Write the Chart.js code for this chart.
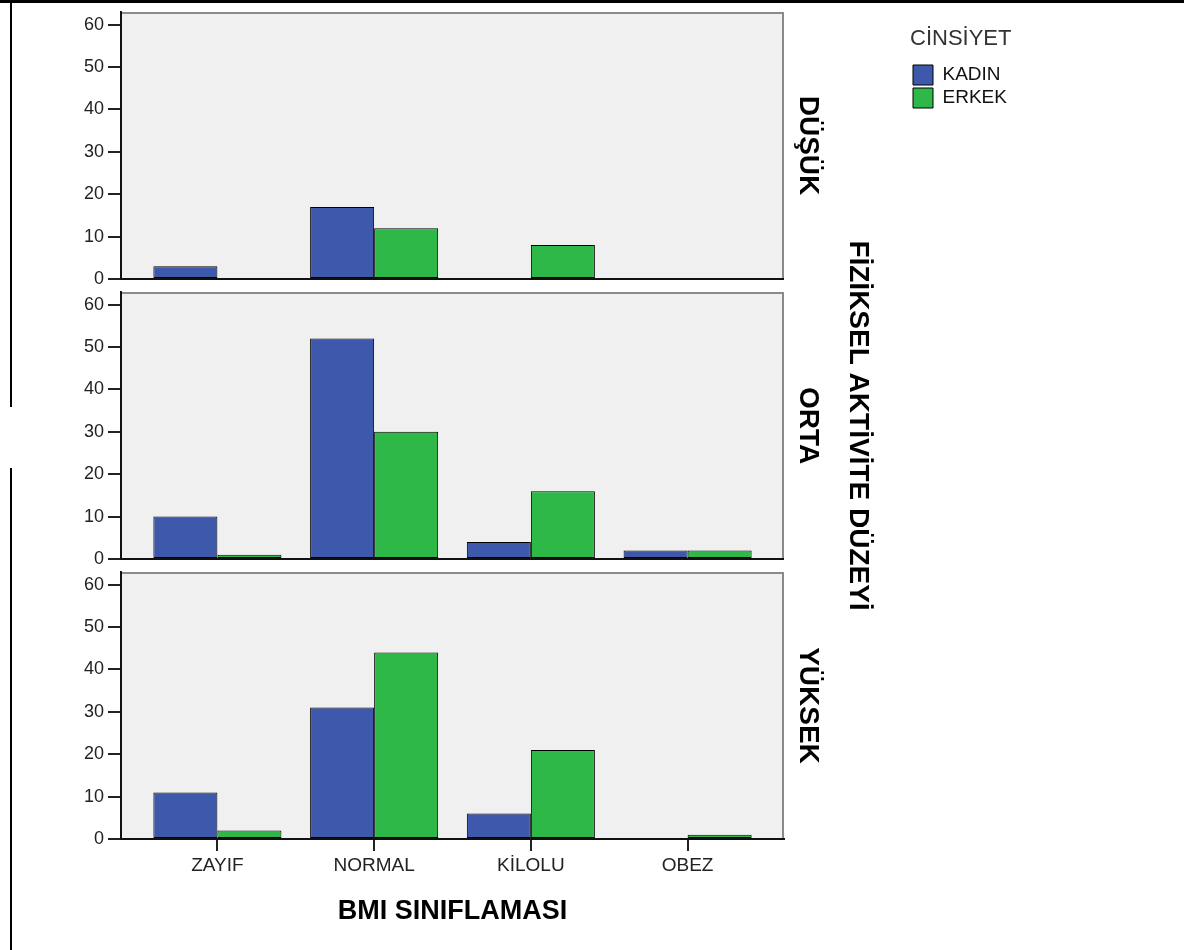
<!DOCTYPE html>
<html>
<head>
<meta charset="utf-8">
<script src="https://cdn.jsdelivr.net/npm/chart.js@4/dist/chart.umd.min.js"></script>
<style>
  html, body { margin: 0; padding: 0; background: #fff; }
  #wrap { position: relative; width: 1184px; height: 950px; overflow: hidden; }
  #c { position: absolute; left: 0; top: 0; }
  .ln { position: absolute; background: #000; }
</style>
</head>
<body>
<div id="wrap">
  <canvas id="c" width="1184" height="950"></canvas>
  <div class="ln" style="left:0;top:0;width:1184px;height:3px;"></div>
  <div class="ln" style="left:10px;top:0;width:2px;height:407px;"></div>
  <div class="ln" style="left:10px;top:468px;width:2px;height:482px;"></div>
</div>
<script>
// ---- data ----
const categories = ['ZAYIF', 'NORMAL', 'KİLOLU', 'OBEZ'];
const panels = ['DÜŞÜK', 'ORTA', 'YÜKSEK'];
const seriesNames = ['KADIN', 'ERKEK'];
const kadinDusuk = [3, 17, 0, 0];
const erkekDusuk = [0, 12, 8, 0];
const kadinOrta = [10, 52, 4, 2];
const erkekOrta = [1, 30, 16, 2];
const kadinYuksek = [11, 31, 6, 0];
const erkekYuksek = [2, 44, 21, 1];
const yTicks = [0, 10, 20, 30, 40, 50, 60];
const legendTitle = 'CİNSİYET';
const xTitle = 'BMI SINIFLAMASI';
const rowTitle = 'FİZİKSEL AKTİVİTE DÜZEYİ';

// ---- styling ----
const FONT = "'Liberation Sans', Arial, sans-serif";
const COLORS = ['#3E58AC', '#2EB848'];
const panelIds = ['yD', 'yO', 'yY'];
const panelValues = [[kadinDusuk, erkekDusuk], [kadinOrta, erkekOrta], [kadinYuksek, erkekYuksek]];

const datasets = [];
panelValues.forEach((pair, p) => {
  pair.forEach((vals, s) => {
    datasets.push({
      label: seriesNames[s],
      data: categories.map((c, i) => ({ x: i, y: vals[i] })),
      yAxisID: panelIds[p],
      xAxisID: 'x',
      stack: 'S' + s,
      backgroundColor: COLORS[s],
      borderColor: '#000',
      borderWidth: 1,
      borderSkipped: false,
      categoryPercentage: 0.817,
      barPercentage: 1.0
    });
  });
});

const setYTicks = s => { s.ticks = yTicks.map(v => ({ value: v })); };
const setXTicks = s => { s.ticks = categories.map((c, i) => ({ value: i })); };
const LEFT_W = 110, RSTACK_W = 44, RT_W = 82;
const PANEL_W = 267, GAP_W = 13;

function leftAxis(weight) {
  return {
    type: 'linear', position: 'left', stack: 'L', stackWeight: PANEL_W, weight,
    min: 0, max: 63, stacked: false,
    afterBuildTicks: setYTicks,
    afterFit: s => { s.width = LEFT_W; s.paddingTop = 0; s.paddingBottom = 0; },
    ticks: { font: { family: FONT, size: 18, lineHeight: 1.2 }, color: '#222', padding: 4 },
    grid: { display: true, drawOnChartArea: false, drawTicks: true, tickLength: 13, color: '#222', lineWidth: 2 },
    border: { display: true, color: '#111', width: 2, z: 1 }
  };
}
function leftGap(weight) {
  return { type: 'linear', position: 'left', stack: 'L', stackWeight: GAP_W, weight, display: false,
           afterFit: s => { s.width = LEFT_W; } };
}
function rightAxis(weight, text) {
  return {
    type: 'linear', position: 'right', stack: 'R', stackWeight: PANEL_W, weight,
    ticks: { display: false }, grid: { display: false, drawTicks: false }, border: { display: false },
    title: { display: true, text, color: '#000', font: { family: FONT, size: 28, weight: 'bold', lineHeight: 1 },
             padding: { top: 6, bottom: 0 } },
    afterFit: s => { s.width = RSTACK_W; }
  };
}
function rightGap(weight) {
  return { type: 'linear', position: 'right', stack: 'R', stackWeight: GAP_W, weight, display: false,
           afterFit: s => { s.width = RSTACK_W; } };
}

const panelPlugin = {
  id: 'panels',
  beforeDraw(chart) {
    const { ctx, chartArea: { left, right } } = chart;
    ctx.save();
    ctx.fillStyle = '#ffffff';
    ctx.fillRect(0, 0, chart.width, chart.height);
    panelIds.forEach(id => {
      const s = chart.scales[id];
      ctx.fillStyle = '#f0f0f0';
      ctx.fillRect(left, s.top, right - left, s.bottom - s.top);
      ctx.strokeStyle = '#8a8a8a';
      ctx.lineWidth = 2;
      ctx.beginPath();
      ctx.moveTo(left, s.top + 1);
      ctx.lineTo(right - 1, s.top + 1);
      ctx.lineTo(right - 1, s.bottom);
      ctx.stroke();
    });
    ctx.restore();
  },
  afterDatasetsDraw(chart) {
    const { ctx, chartArea: { left, right } } = chart;
    ctx.save();
    ctx.strokeStyle = '#111';
    ctx.lineWidth = 2;
    panelIds.forEach(id => {
      const s = chart.scales[id];
      ctx.beginPath();
      ctx.moveTo(left, s.bottom);
      ctx.lineTo(right, s.bottom);
      ctx.stroke();
    });
    ctx.restore();
  }
};

new Chart(document.getElementById('c'), {
  type: 'bar',
  data: { datasets },
  options: {
    responsive: false,
    animation: false,
    devicePixelRatio: 1,
    layout: { padding: { left: 11, top: 12, right: 170, bottom: 10 } },
    plugins: {
      tooltip: { enabled: false },
      legend: {
        display: true, position: 'right', align: 'start', maxWidth: 104,
        title: { display: true, text: legendTitle, color: '#333', position: 'start',
                 font: { family: FONT, size: 22, lineHeight: 1 }, padding: { top: 16, bottom: 12 } },
        labels: {
          boxWidth: 20, boxHeight: 20, padding: 3, color: '#111',
          font: { family: FONT, size: 19, lineHeight: 1 },
          filter: item => item.datasetIndex < 2
        }
      }
    },
    scales: {
      x: {
        type: 'linear', position: 'bottom', min: -0.615, max: 3.615, offset: false,
        afterBuildTicks: setXTicks,
        ticks: { callback: v => categories[v], font: { family: FONT, size: 19, lineHeight: 1.2 },
                 color: '#222', padding: 3, maxRotation: 0, autoSkip: false },
        grid: { display: true, offset: false, drawOnChartArea: false, drawTicks: true, tickLength: 12, color: '#222', lineWidth: 2 },
        border: { display: true, color: '#111', width: 2, z: 1 },
        title: { display: true, text: xTitle, color: '#000',
                 font: { family: FONT, size: 27, weight: 'bold', lineHeight: 1.2 }, padding: { top: 16, bottom: 11.8 } }
      },
      yD: leftAxis(5),
      g1: leftGap(4),
      yO: leftAxis(3),
      g2: leftGap(2),
      yY: leftAxis(1),
      rD: rightAxis(1, panels[0]),
      rg1: rightGap(2),
      rO: rightAxis(3, panels[1]),
      rg2: rightGap(4),
      rY: rightAxis(5, panels[2]),
      rt: {
        type: 'linear', position: 'right', weight: 20,
        ticks: { display: false }, grid: { display: false, drawTicks: false }, border: { display: false },
        title: { display: true, text: rowTitle, color: '#000', font: { family: FONT, size: 28, weight: 'bold', lineHeight: 1 },
                 padding: { top: 38, bottom: 0 } },
        afterFit: s => { s.width = RT_W; }
      }
    }
  },
  plugins: [panelPlugin]
});
</script>
</body>
</html>
